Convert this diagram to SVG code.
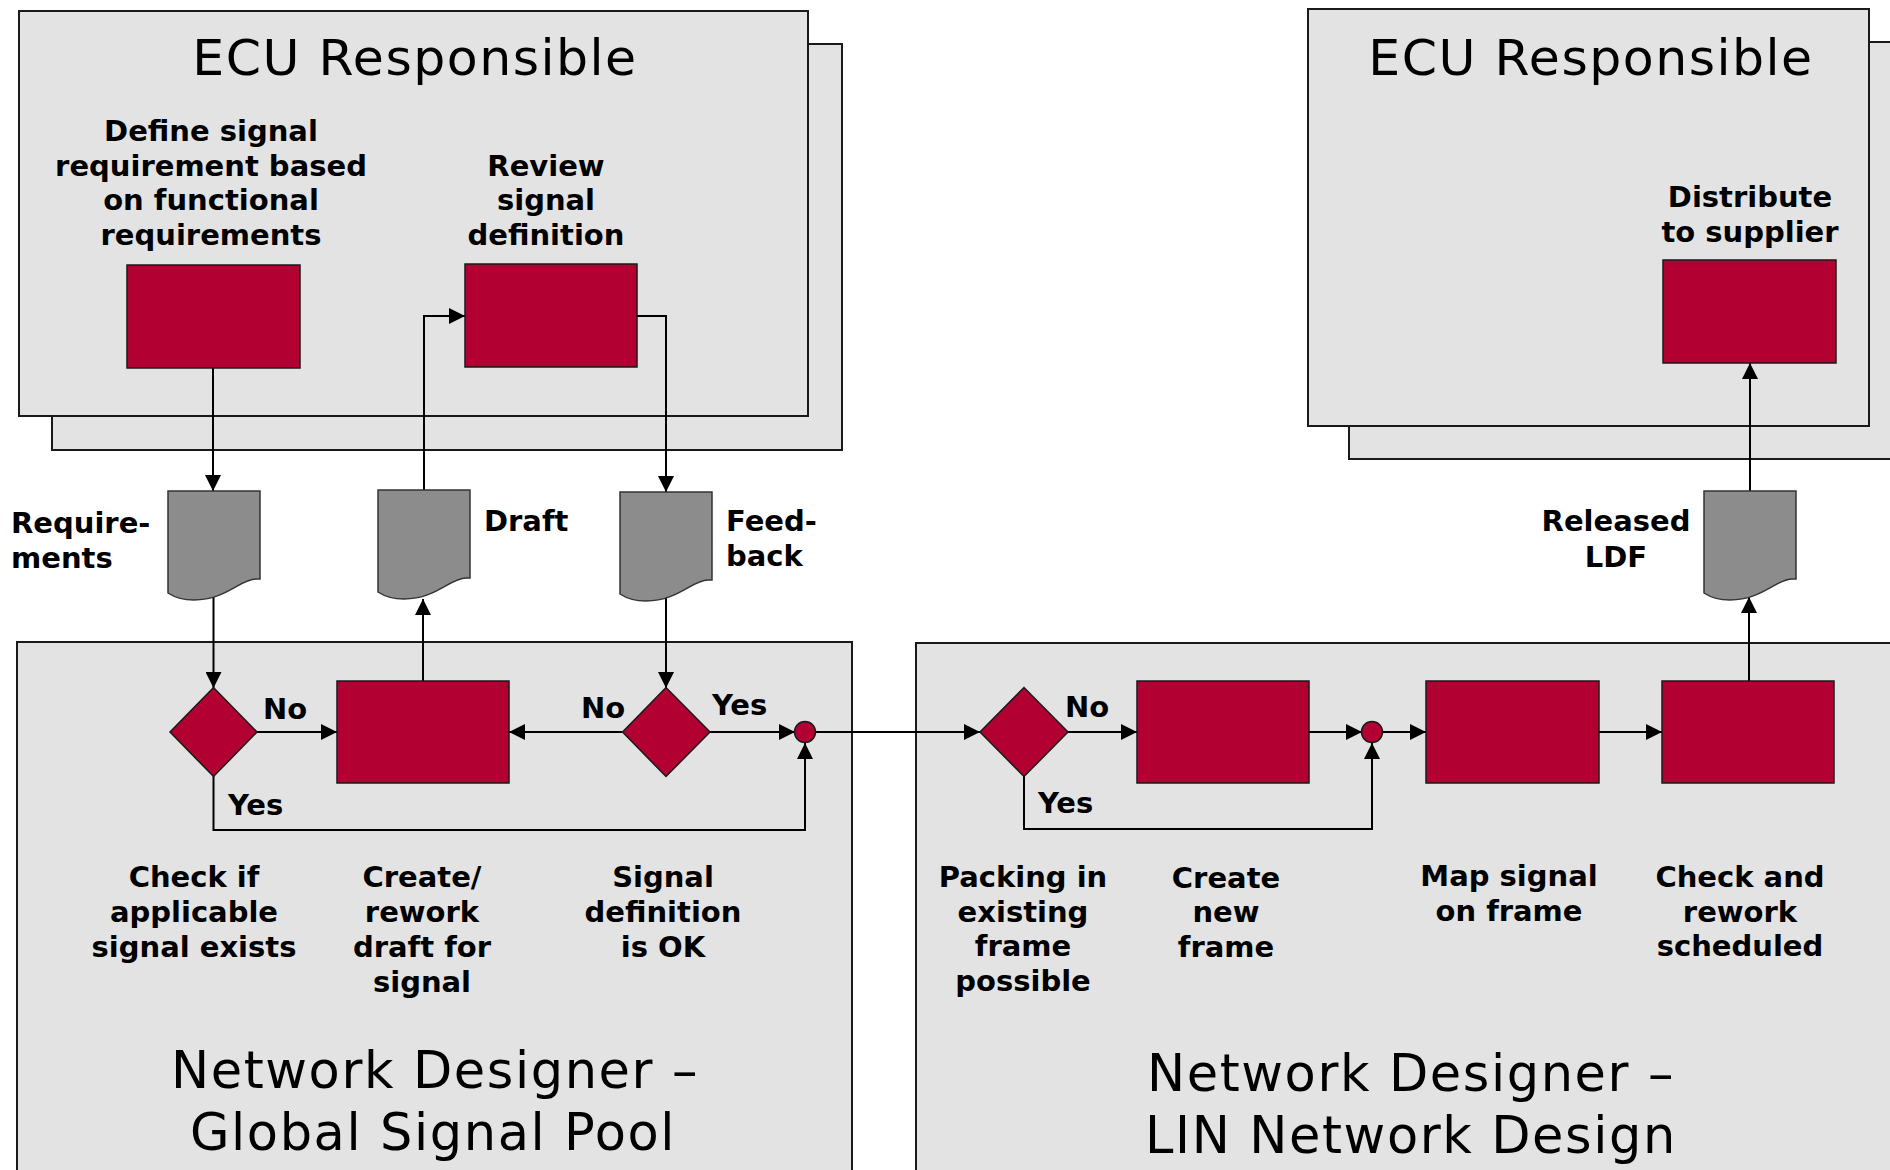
<svg xmlns="http://www.w3.org/2000/svg" xmlns:xlink="http://www.w3.org/1999/xlink" width="1890" height="1170" viewBox="0 0 1890 1170">
<style>
.cont{fill:#e3e3e3;stroke:#1a1a1a;stroke-width:2}
.proc{fill:#b30032;stroke:#1a1a1a;stroke-width:1.5}
.doc{fill:#8c8c8c;stroke:#333;stroke-width:1.5}
.conn{fill:none;stroke:#000;stroke-width:2;marker-end:url(#ah)}
.lbl{font-family:"DejaVu Sans",Verdana,sans-serif;font-weight:bold;font-size:29px;fill:#000}
.c{text-anchor:middle}
.ttl{font-family:"DejaVu Sans",Verdana,sans-serif;font-size:50.5px;letter-spacing:1.5px;text-anchor:middle;fill:#000}
.ttl2{font-family:"DejaVu Sans",Verdana,sans-serif;font-size:51px;letter-spacing:1.6px;text-anchor:middle;fill:#000}
</style>
<defs>
<marker id="ah" markerUnits="userSpaceOnUse" markerWidth="16" markerHeight="16" refX="16" refY="8" orient="auto"><path d="M0,0 L16,8 L0,16 Z" fill="#000"/></marker>
<path id="docshape" d="M0,0 H92 V88 H88 C72,88 58,109 26,109 C14,109 6,106 0,102 Z"/>
</defs>
<rect width="1890" height="1170" fill="#fff"/>

<g id="ecu-left">
<rect class="cont" x="52" y="44" width="790" height="406"/>
<rect class="cont" x="19" y="11" width="789" height="405"/>
<text class="ttl" x="415" y="75">ECU Responsible</text>
</g>
<g id="ecu-right">
<rect class="cont" x="1349" y="42" width="560" height="417"/>
<rect class="cont" x="1308" y="9" width="561" height="417"/>
<text class="ttl" x="1591" y="75">ECU Responsible</text>
</g>
<g id="nd-global">
<rect class="cont" x="17" y="642" width="835" height="550"/>
<text class="ttl2" x="435" y="1088">Network Designer –</text>
<text class="ttl2" x="433" y="1150">Global Signal Pool</text>
</g>
<g id="nd-lin">
<rect class="cont" x="916" y="643" width="1000" height="550"/>
<text class="ttl2" x="1411" y="1091">Network Designer –</text>
<text class="ttl2" x="1411" y="1153">LIN Network Design</text>
</g>

<g id="connectors">
<path class="conn" d="M213,368 V491"/>
<path class="conn" d="M424,490 V316 H465"/>
<path class="conn" d="M637,316 H666 V492"/>
<path class="conn" d="M213.5,596 V688"/>
<path class="conn" d="M423,681 V599"/>
<path class="conn" d="M666,597 V688"/>
<path class="conn" d="M257,732 H337"/>
<path class="conn" d="M622,732 H509"/>
<path class="conn" d="M710,732 H795"/>
<path class="conn" d="M213.5,776 V830 H805 V743"/>
<path class="conn" d="M815,732 H980"/>
<path class="conn" d="M1068,732 H1137"/>
<path class="conn" d="M1024,776 V829 H1372 V743"/>
<path class="conn" d="M1309,732 H1362"/>
<path class="conn" d="M1382,732 H1426"/>
<path class="conn" d="M1599,732 H1662"/>
<path class="conn" d="M1749,681 V597"/>
<path class="conn" d="M1750,491 V363"/>
</g>

<g id="define-signal">
<rect class="proc" x="127" y="265" width="173" height="103"/>
<text class="lbl c" x="211" y="141">Define signal</text>
<text class="lbl c" x="211" y="175.5">requirement based</text>
<text class="lbl c" x="211" y="210">on functional</text>
<text class="lbl c" x="211" y="245">requirements</text>
</g>
<g id="review-signal">
<rect class="proc" x="465" y="264" width="172" height="103"/>
<text class="lbl c" x="546" y="175.5">Review</text>
<text class="lbl c" x="546" y="210">signal</text>
<text class="lbl c" x="546" y="245">definition</text>
</g>
<g id="distribute">
<rect class="proc" x="1663" y="260" width="173" height="103"/>
<text class="lbl c" x="1750" y="207">Distribute</text>
<text class="lbl c" x="1750" y="242">to supplier</text>
</g>

<g id="doc-requirements">
<use xlink:href="#docshape" class="doc" x="168" y="491"/>
<text class="lbl" x="11" y="533">Require-</text>
<text class="lbl" x="11" y="568">ments</text>
</g>
<g id="doc-draft">
<use xlink:href="#docshape" class="doc" x="378" y="490"/>
<text class="lbl" x="484" y="531">Draft</text>
</g>
<g id="doc-feedback">
<use xlink:href="#docshape" class="doc" x="620" y="492"/>
<text class="lbl" x="726" y="531">Feed-</text>
<text class="lbl" x="726" y="566">back</text>
</g>
<g id="doc-ldf">
<use xlink:href="#docshape" class="doc" x="1704" y="491"/>
<text class="lbl c" x="1616" y="531">Released</text>
<text class="lbl c" x="1616" y="567">LDF</text>
</g>

<g id="check-exists">
<polygon class="proc" points="170,732 213.5,687.5 257,732 213.5,776.5"/>
<text class="lbl" x="263" y="719">No</text>
<text class="lbl" x="228" y="815">Yes</text>
<text class="lbl c" x="194" y="887">Check if</text>
<text class="lbl c" x="194" y="922">applicable</text>
<text class="lbl c" x="194" y="957">signal exists</text>
</g>
<g id="create-draft">
<rect class="proc" x="337" y="681" width="172" height="102"/>
<text class="lbl c" x="422" y="887">Create/</text>
<text class="lbl c" x="422" y="922">rework</text>
<text class="lbl c" x="422" y="957">draft for</text>
<text class="lbl c" x="422" y="992">signal</text>
</g>
<g id="definition-ok">
<polygon class="proc" points="622.5,732 666,687.5 710,732 666,776.5"/>
<text class="lbl" x="581" y="718">No</text>
<text class="lbl" x="712" y="715">Yes</text>
<text class="lbl c" x="663" y="887">Signal</text>
<text class="lbl c" x="663" y="922">definition</text>
<text class="lbl c" x="663" y="957">is OK</text>
</g>
<g id="merge-1">
<circle class="proc" cx="805" cy="732" r="10.5"/>
</g>
<g id="packing-possible">
<polygon class="proc" points="980,732 1024,687.5 1068,732 1024,776.5"/>
<text class="lbl" x="1065" y="717">No</text>
<text class="lbl" x="1038" y="813">Yes</text>
<text class="lbl c" x="1023" y="887">Packing in</text>
<text class="lbl c" x="1023" y="922">existing</text>
<text class="lbl c" x="1023" y="956">frame</text>
<text class="lbl c" x="1023" y="991">possible</text>
</g>
<g id="create-frame">
<rect class="proc" x="1137" y="681" width="172" height="102"/>
<text class="lbl c" x="1226" y="888">Create</text>
<text class="lbl c" x="1226" y="922">new</text>
<text class="lbl c" x="1226" y="957">frame</text>
</g>
<g id="merge-2">
<circle class="proc" cx="1372" cy="732" r="10.5"/>
</g>
<g id="map-signal">
<rect class="proc" x="1426" y="681" width="173" height="102"/>
<text class="lbl c" x="1509" y="886">Map signal</text>
<text class="lbl c" x="1509" y="921">on frame</text>
</g>
<g id="check-rework">
<rect class="proc" x="1662" y="681" width="172" height="102"/>
<text class="lbl c" x="1740" y="887">Check and</text>
<text class="lbl c" x="1740" y="922">rework</text>
<text class="lbl c" x="1740" y="956">scheduled</text>
</g>
</svg>
